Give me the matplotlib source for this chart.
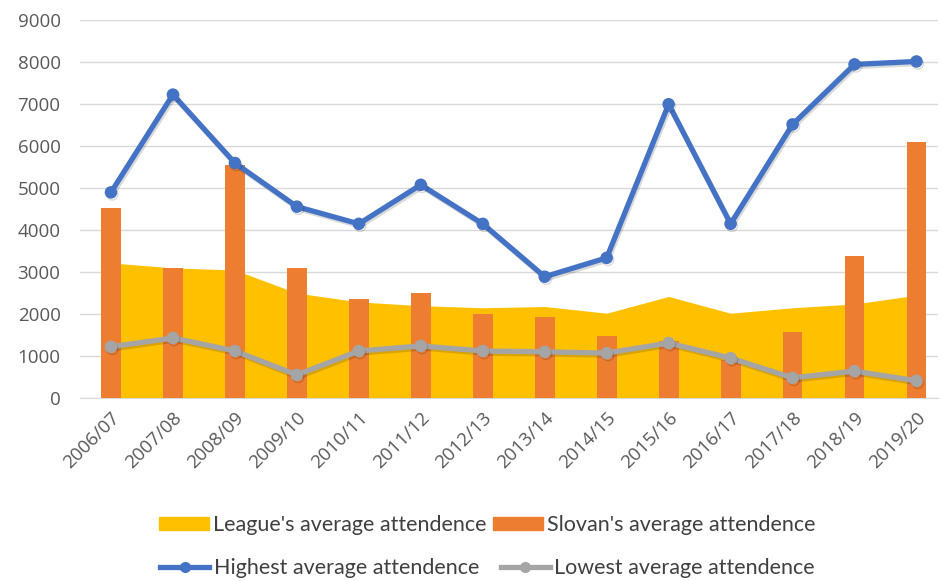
import numpy as np
import matplotlib.pyplot as plt
import matplotlib.patheffects as pe
from matplotlib.lines import Line2D
from matplotlib.patches import Patch

seasons = ['2006/07', '2007/08', '2008/09', '2009/10', '2010/11', '2011/12', '2012/13',
           '2013/14', '2014/15', '2015/16', '2016/17', '2017/18', '2018/19', '2019/20']
league_avg = [3220, 3100, 3050, 2500, 2290, 2200, 2150, 2180, 2020, 2420, 2020, 2150, 2240, 2450]
slovan_avg = [4530, 3100, 5550, 3100, 2360, 2510, 2000, 1930, 1480, 1350, 900, 1580, 3390, 6110]
highest_avg = [4900, 7230, 5600, 4560, 4150, 5080, 4150, 2890, 3340, 7000, 4150, 6520, 7950, 8020]
lowest_avg = [1220, 1430, 1120, 550, 1120, 1240, 1120, 1100, 1070, 1310, 950, 480, 640, 410]

c_area = '#FFC000'
c_bar = '#ED7D31'
c_high = '#4472C4'
c_low = '#A5A5A5'

fig = plt.figure(figsize=(9.41, 5.81), dpi=100)
ax = fig.add_axes([0.085, 0.315, 0.912, 0.65])

x = np.arange(len(seasons))
shadow = [pe.SimpleLineShadow(offset=(1, -1.5), alpha=0.15, shadow_color='k'), pe.Normal()]

ax.fill_between(x, league_avg, 0, color=c_area, zorder=2, lw=0)
ax.bar(x, slovan_avg, width=0.32, color=c_bar, zorder=3, linewidth=0)
ax.plot(x, highest_avg, color=c_high, lw=3.8, marker='o', ms=8, zorder=5, path_effects=shadow)
ax.plot(x, lowest_avg, color=c_low, lw=3.8, marker='o', ms=8, zorder=4, path_effects=shadow)

ax.set_xlim(-0.5, 13.35)
ax.set_ylim(0, 9000)
ax.set_yticks(range(0, 9001, 1000))
ax.set_xticks(x)
ax.set_xticklabels(seasons, rotation=45, ha='right', rotation_mode='anchor',
                   fontsize=13.5, color='#595959', family='Open Sans')
for lab in ax.get_yticklabels():
    lab.set_fontsize(13.5)
    lab.set_color('#595959')
    lab.set_family('Open Sans')
ax.tick_params(axis='x', length=0, pad=8)
ax.tick_params(axis='y', length=0, pad=14)
ax.grid(axis='y', color='#D9D9D9', lw=1, zorder=0)
for s in ['top', 'right', 'left']:
    ax.spines[s].set_visible(False)
ax.spines['bottom'].set_color('#D9D9D9')

h1 = [Patch(color=c_area), Patch(color=c_bar)]
l1 = ["League's average attendence", "Slovan's average attendence"]
h2 = [Line2D([], [], color=c_high, lw=3.8, marker='o', ms=7),
      Line2D([], [], color=c_low, lw=3.8, marker='o', ms=7)]
l2 = ['Highest average attendence', 'Lowest average attendence']
leg1 = fig.legend(h1, l1, loc='center', bbox_to_anchor=(0.518, 0.097), ncol=2, frameon=False,
                  prop={'family': 'Lato', 'size': 15.5}, labelcolor='#404040',
                  handlelength=2.3, handleheight=0.55, handletextpad=0.2, columnspacing=0.3)
leg2 = fig.legend(h2, l2, loc='center', bbox_to_anchor=(0.518, 0.022), ncol=2, frameon=False,
                  prop={'family': 'Lato', 'size': 15.5}, labelcolor='#404040',
                  handlelength=2.3, handletextpad=0.2, columnspacing=1.0)

fig.savefig('out.png', dpi=100)
